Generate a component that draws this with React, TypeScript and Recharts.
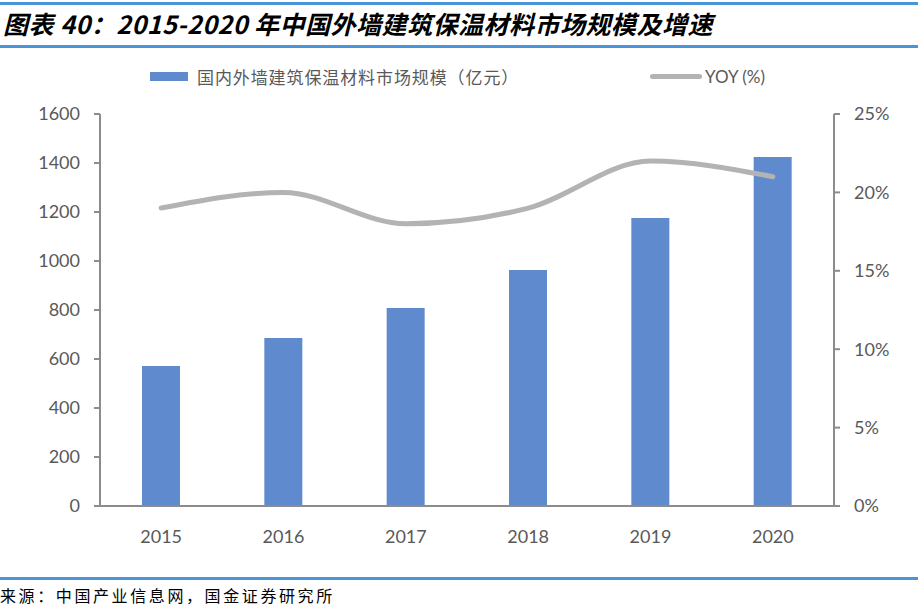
import { Bar, ComposedChart, Line, XAxis, YAxis } from "recharts";

const years = ["2015", "2016", "2017", "2018", "2019", "2020"];
const marketSize = [571, 686, 808, 963, 1176, 1425];
const yoy = [19, 20, 18, 19, 22, 21];
const leftTicks = [0, 200, 400, 600, 800, 1000, 1200, 1400, 1600];
const rightTicks = [0, 5, 10, 15, 20, 25];

const data = years.map((year, i) => ({ year, size: marketSize[i], yoy: yoy[i] }));

const BLUE = "#5F8ACE";
const GREY_LINE = "#B3B3B3";
const AXIS = "#8C8C8C";
const INK = "#595959";
const RULE = "#4A95DA";
const tick = { fill: INK, fontSize: 18, fontFamily: "Lato, 'Open Sans', sans-serif" };

export default function App() {
  return (
    <div style={{ position: "relative", width: 918, height: 612, background: "#fff", overflow: "hidden" }}>
      <style>{`body{margin:0}`}</style>
      <div style={{ position: "absolute", left: 0, top: 2, width: 918, height: 3, background: RULE }} />
      <div
        style={{
          position: "absolute",
          left: 3,
          top: 7,
          fontSize: 25,
          letterSpacing: 0.5,
          fontWeight: 700,
          fontStyle: "italic",
          fontFamily: "'Noto Sans CJK SC', sans-serif",
          color: "#000",
          whiteSpace: "nowrap",
          lineHeight: "32px",
        }}
      >
        图表 40：2015-2020 年中国外墙建筑保温材料市场规模及增速
      </div>
      <div style={{ position: "absolute", left: 0, top: 45, width: 918, height: 3, background: RULE }} />

      {/* legend */}
      <div style={{ position: "absolute", left: 150, top: 72, width: 38, height: 9, background: BLUE }} />
      <div
        style={{
          position: "absolute",
          left: 197,
          top: 64,
          fontSize: 17,
          letterSpacing: 0.9,
          color: INK,
          fontFamily: "'Noto Sans CJK SC', sans-serif",
          whiteSpace: "nowrap",
          lineHeight: "26px",
        }}
      >
        国内外墙建筑保温材料市场规模（亿元）
      </div>
      <div style={{ position: "absolute", left: 650, top: 74, width: 52, height: 5, borderRadius: 3, background: GREY_LINE }} />
      <div
        style={{
          position: "absolute",
          left: 705,
          top: 64,
          fontSize: 17,
          color: INK,
          fontFamily: "Lato, sans-serif",
          whiteSpace: "nowrap",
          lineHeight: "26px",
        }}
      >
        YOY (%)
      </div>

      <div style={{ position: "absolute", left: 0, top: 0 }}>
        <ComposedChart
          width={918}
          height={612}
          data={data}
          margin={{ top: 114, right: 0, bottom: 76, left: 0 }}
          barCategoryGap={0}
        >
          <XAxis
            dataKey="year"
            tick={tick}
            tickLine={false}
            axisLine={{ stroke: AXIS, strokeWidth: 2 }}
            height={30}
            tickMargin={18}
          />
          <YAxis
            yAxisId="left"
            width={100}
            domain={[0, 1600]}
            ticks={leftTicks}
            tick={tick}
            tickLine={{ stroke: AXIS, strokeWidth: 2 }}
            tickSize={6}
            tickMargin={14}
            axisLine={{ stroke: AXIS, strokeWidth: 2 }}
            interval={0}
          />
          <YAxis
            yAxisId="right"
            orientation="right"
            width={84}
            domain={[0, 25]}
            ticks={rightTicks}
            tickFormatter={(v: number) => `${v}%`}
            tick={tick}
            tickLine={{ stroke: AXIS, strokeWidth: 2 }}
            tickSize={6}
            tickMargin={14}
            axisLine={{ stroke: AXIS, strokeWidth: 2 }}
            interval={0}
          />
          <Bar yAxisId="left" dataKey="size" fill={BLUE} barSize={38} isAnimationActive={false} />
          <Line
            yAxisId="right"
            type="monotone"
            dataKey="yoy"
            stroke={GREY_LINE}
            strokeWidth={5}
            strokeLinecap="round"
            dot={false}
            activeDot={false}
            isAnimationActive={false}
          />
        </ComposedChart>
      </div>

      <div style={{ position: "absolute", left: 0, top: 577, width: 918, height: 3, background: RULE }} />
      <div
        style={{
          position: "absolute",
          left: 0,
          top: 583,
          fontSize: 16,
          letterSpacing: 2.6,
          color: "#000",
          fontFamily: "'Noto Sans CJK SC', sans-serif",
          whiteSpace: "nowrap",
          lineHeight: "24px",
        }}
      >
        来源：中国产业信息网，国金证券研究所
      </div>
    </div>
  );
}
